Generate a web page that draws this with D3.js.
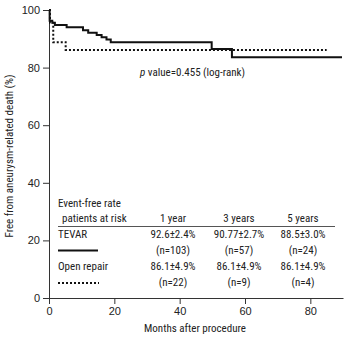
<!DOCTYPE html>
<html><head><meta charset="utf-8">
<script src="https://cdn.jsdelivr.net/npm/d3@7"></script>
<style>
body{margin:0;background:#fff;}
text{font-family:"Liberation Sans Narrow","Roboto Condensed","Arial Narrow",sans-serif;fill:#222;}
</style></head><body>
<script>
// Kaplan-Meier step points [months, percent]
const tevar = [[0,100],[0.2,96.3],[1.0,95.6],[1.8,94.8],[5.4,94.0],[10.4,93.0],[12.0,92.1],[14.6,91.3],[16.1,90.5],[17.6,89.8],[18.9,88.8],[49.8,86.5],[56.0,83.6],[89.7,83.6]];
const openRepair = [[0,100],[0.3,95.6],[1.3,88.8],[5.1,86.1],[85.0,86.1]];
const xTicks = [0,20,40,60,80];
const yTicks = [0,20,40,60,80,100];
const colHeaders = ["1 year","3 years","5 years"];
const tevarRates = ["92.6\u00b12.4%","90.77\u00b12.7%","88.5\u00b13.0%"];
const tevarN = ["(n=103)","(n=57)","(n=24)"];
const openRates = ["86.1\u00b14.9%","86.1\u00b14.9%","86.1\u00b14.9%"];
const openN = ["(n=22)","(n=9)","(n=4)"];

const W=349,H=340;
const svg=d3.select("body").append("svg").attr("width",W).attr("height",H);
const x=d3.scaleLinear().domain([0,90]).range([49,343]);
const y=d3.scaleLinear().domain([0,100]).range([298,10]);

const xAxis=svg.append("g").attr("transform","translate(0,298)")
  .call(d3.axisBottom(x).tickValues(xTicks).tickSize(6).tickPadding(3).tickSizeOuter(0));
const yAxis=svg.append("g").attr("transform","translate(49,0)")
  .call(d3.axisLeft(y).tickValues(yTicks).tickSize(6).tickPadding(3).tickSizeOuter(0));
[xAxis,yAxis].forEach(g=>{
  g.selectAll("path,line").attr("stroke","#333").attr("stroke-width",1);
  g.selectAll("text").attr("font-size",11).style("font-family",'"Liberation Sans Narrow","Arial Narrow",sans-serif').attr("fill","#222");
});

const line=d3.line().x(d=>x(d[0])).y(d=>y(d[1])).curve(d3.curveStepAfter);
svg.append("path").datum(tevar).attr("d",line).attr("fill","none").attr("stroke","#111").attr("stroke-width",2);
svg.append("path").datum(openRepair).attr("d",line).attr("fill","none").attr("stroke","#111").attr("stroke-width",2).attr("stroke-dasharray","2,2");

// axis titles
svg.append("text").attr("x",195).attr("y",332).attr("text-anchor","middle").attr("font-size",11).text("Months after procedure");
svg.append("text").attr("transform","translate(13,156) rotate(-90)").attr("text-anchor","middle").attr("font-size",11).text("Free from aneurysm-related death (%)");

// p value
const pt=svg.append("text").attr("x",140).attr("y",76).attr("font-size",11);
pt.append("tspan").attr("font-style","italic").text("p");
pt.append("tspan").text(" value=0.455 (log-rank)");

// table
const colX=[173,239,303];
svg.append("text").attr("x",58).attr("y",207).attr("font-size",11).text("Event-free rate");
svg.append("text").attr("x",62).attr("y",222).attr("font-size",11).text("patients at risk");
colHeaders.forEach((t,i)=>svg.append("text").attr("x",colX[i]).attr("y",222).attr("text-anchor","middle").attr("font-size",11).text(t));
svg.append("line").attr("x1",58).attr("x2",335).attr("y1",226.5).attr("y2",226.5).attr("stroke","#555").attr("stroke-width",1);
svg.append("text").attr("x",58).attr("y",238).attr("font-size",11).text("TEVAR");
tevarRates.forEach((t,i)=>svg.append("text").attr("x",colX[i]).attr("y",238).attr("text-anchor","middle").attr("font-size",11).text(t));
tevarN.forEach((t,i)=>svg.append("text").attr("x",colX[i]).attr("y",254).attr("text-anchor","middle").attr("font-size",11).text(t));
svg.append("line").attr("x1",58).attr("x2",98).attr("y1",250.5).attr("y2",250.5).attr("stroke","#111").attr("stroke-width",2);
svg.append("text").attr("x",58).attr("y",270).attr("font-size",11).text("Open repair");
openRates.forEach((t,i)=>svg.append("text").attr("x",colX[i]).attr("y",270).attr("text-anchor","middle").attr("font-size",11).text(t));
openN.forEach((t,i)=>svg.append("text").attr("x",colX[i]).attr("y",286).attr("text-anchor","middle").attr("font-size",11).text(t));
svg.append("line").attr("x1",58).attr("x2",99).attr("y1",283).attr("y2",283).attr("stroke","#111").attr("stroke-width",2).attr("stroke-dasharray","2,2");
</script>
</body></html>
